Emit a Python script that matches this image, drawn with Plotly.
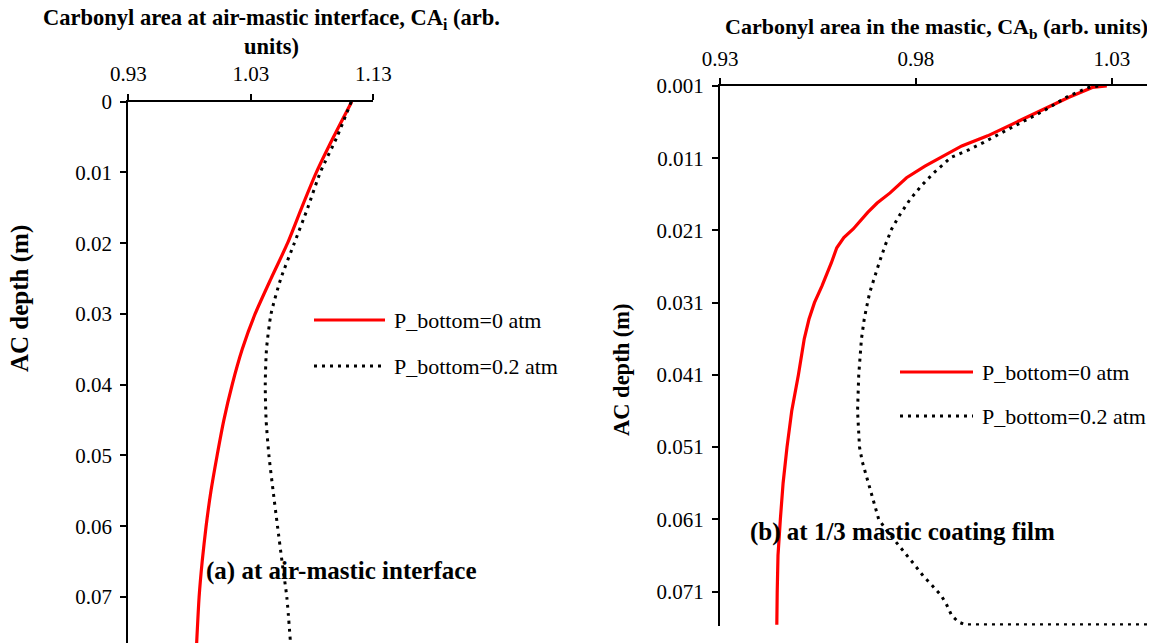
import plotly.graph_objects as go

W, H = 1155, 643
OFF = 8  # page body margin: the plot div starts 8px in from the window corner

# (a) at the air-mastic interface
depth_a = [0, 0.005, 0.01, 0.015, 0.02, 0.025, 0.03, 0.035, 0.04, 0.045,
           0.05, 0.055, 0.06, 0.065, 0.07, 0.0765]
ca_i_p0 = [1.1124, 1.0975, 1.0835, 1.0715, 1.0600, 1.0465, 1.0335, 1.0230,
           1.0148, 1.0080, 1.0025, 0.9975, 0.9935, 0.9903, 0.9878, 0.9858]
ca_i_p02 = [1.1120, 1.1003, 1.0867, 1.0765, 1.0655, 1.0545, 1.0465, 1.0428,
            1.0418, 1.0425, 1.0448, 1.0482, 1.0518, 1.0555, 1.0594, 1.0624]

# (b) at 1/3 of the mastic coating film
depth_b_p0 = [0.001, 0.0012, 0.0026, 0.0052, 0.0079, 0.0093, 0.0107, 0.0121,
              0.0137, 0.0158, 0.0172, 0.0185, 0.0208, 0.0220, 0.0234, 0.0255,
              0.0287, 0.0310, 0.0333, 0.036, 0.041, 0.046, 0.051, 0.056,
              0.061, 0.066, 0.071, 0.0756]
ca_b_p0 = [1.0287, 1.0250, 1.0189, 1.0086, 0.9983, 0.9917, 0.9870, 0.9823,
           0.9776, 0.9734, 0.9701, 0.9677, 0.9640, 0.9616, 0.9598, 0.9584,
           0.9560, 0.9541, 0.9527, 0.9515, 0.9500, 0.9483, 0.9471, 0.9461,
           0.9454, 0.9448, 0.9446, 0.9445]
depth_b_p02 = [0.001, 0.0012, 0.0024, 0.0045, 0.0061, 0.0075, 0.0088, 0.0098,
               0.0109, 0.0130, 0.0148, 0.0167, 0.0190, 0.0208, 0.0230, 0.0255,
               0.0278, 0.0296, 0.0319, 0.0333, 0.036, 0.041, 0.046, 0.051,
               0.053, 0.056, 0.059, 0.061, 0.0628, 0.0640, 0.0656, 0.0672,
               0.0688, 0.0702, 0.0716, 0.0729, 0.0743, 0.0752, 0.0756, 0.0756]
ca_b_p02 = [1.0265, 1.0241, 1.0189, 1.0124, 1.0067, 1.0020, 0.9973, 0.9936,
            0.9889, 0.9846, 0.9814, 0.9785, 0.9757, 0.9738, 0.9722, 0.9706,
            0.9692, 0.9682, 0.9673, 0.9668, 0.9661, 0.9654, 0.9651, 0.9656,
            0.9663, 0.9679, 0.9696, 0.9705, 0.9729, 0.9748, 0.9771, 0.9795,
            0.9818, 0.9842, 0.9865, 0.9879, 0.9891, 0.9908, 0.9926, 1.0600]

xticks_a = [0.93, 1.03, 1.13]
yticks_a = [0, 0.01, 0.02, 0.03, 0.04, 0.05, 0.06, 0.07]
xticks_b = [0.93, 0.98, 1.03]
yticks_b = [0.001, 0.011, 0.021, 0.031, 0.041, 0.051, 0.061, 0.071]

series_names = ["P_bottom=0 atm", "P_bottom=0.2 atm"]

SERIF = "Liberation Serif"
RED = dict(color="#ff0000", width=3.2)
DOT = dict(color="black", width=3, dash="3px,5px")


def px(x):
    return (x - OFF) / (W - OFF)


def py(y):
    return 1 - (y - OFF) / (H - OFF)


fig = go.Figure()
fig.add_trace(go.Scatter(x=ca_i_p0, y=depth_a, mode="lines",
                         line=dict(shape="spline", smoothing=0.6, **RED),
                         xaxis="x", yaxis="y", name=series_names[0]))
fig.add_trace(go.Scatter(x=ca_i_p02, y=depth_a, mode="lines",
                         line=dict(shape="spline", smoothing=0.6, **DOT),
                         xaxis="x", yaxis="y", name=series_names[1]))
fig.add_trace(go.Scatter(x=ca_b_p0, y=depth_b_p0, mode="lines", line=RED,
                         xaxis="x2", yaxis="y2", name=series_names[0]))
fig.add_trace(go.Scatter(x=ca_b_p02, y=depth_b_p02, mode="lines", line=DOT,
                         xaxis="x2", yaxis="y2", name=series_names[1]))

tickfont = dict(family=SERIF, size=21, color="black")
common = dict(showline=True, linecolor="black", linewidth=2, ticks="outside",
              ticklen=6, tickwidth=2, tickcolor="black", showgrid=False,
              zeroline=False, tickfont=tickfont, automargin=False,
              ticklabelstandoff=4)
inner = dict(showline=False, ticks="inside", ticklen=6, tickwidth=2,
             tickcolor="black", showgrid=False, zeroline=False,
             showticklabels=False, automargin=False)

dom_ax = [px(128.3), px(373.3)]
dom_ay = [0, py(101.7)]
dom_bx = [px(720), 1]
dom_by = [py(625.5), py(86)]
rng_ax = [0.93, 1.13]
rng_ay = [0.0765, 0]
rng_bx = [0.93, 1.041]
rng_by = [0.0757, 0.001]

fig.update_layout(
    width=W - OFF, height=H - OFF, margin=dict(l=0, r=0, t=0, b=0),
    paper_bgcolor="white", plot_bgcolor="white", showlegend=False,
    xaxis=dict(domain=dom_ax, range=rng_ax, side="top", anchor="y",
               tickvals=xticks_a, **common),
    yaxis=dict(domain=dom_ay, range=rng_ay, anchor="x",
               tickvals=yticks_a, **common),
    xaxis2=dict(domain=dom_bx, range=rng_bx, side="top", anchor="y2",
                tickvals=xticks_b, tickformat=".2f", **common),
    yaxis2=dict(domain=dom_by, range=rng_by, anchor="x2",
                tickvals=yticks_b, tickformat=".3f", **common),
    # overlay axes give the crossing tick marks
    xaxis3=dict(overlaying="x", range=rng_ax, side="top", anchor="y3",
                tickvals=xticks_a, **inner),
    yaxis3=dict(overlaying="y", range=rng_ay, anchor="x3",
                tickvals=yticks_a, **inner),
    xaxis4=dict(overlaying="x2", range=rng_bx, side="top", anchor="y4",
                tickvals=xticks_b, **inner),
    yaxis4=dict(overlaying="y2", range=rng_by, anchor="x4",
                tickvals=yticks_b, **inner),
)


def font(size):
    return dict(family=SERIF, size=size, color="black")


notes = [
    dict(text="<b>Carbonyl area at air-mastic interface, CA<sub>i</sub> (arb.<br>units)</b>",
         x=px(271), y=py(32), font=font(22.5)),
    dict(text="<b>Carbonyl area in the mastic, CA<sub>b</sub> (arb. units)</b>",
         x=px(936), y=py(28), font=font(22)),
    dict(text="<b>AC depth (m)</b>", x=px(20), y=py(299), font=font(25), textangle=-90),
    dict(text="<b>AC depth (m)</b>", x=px(621), y=py(370), font=font(22.5), textangle=-90),
    dict(text="<b>(a) at air-mastic interface</b>", x=px(341), y=py(571), font=font(25)),
    dict(text="<b>(b) at 1/3 mastic coating film</b>", x=px(902), y=py(532), font=font(25)),
]
for n in notes:
    fig.add_annotation(xref="paper", yref="paper", showarrow=False,
                       xanchor="center", yanchor="middle", **n)

# legends drawn by hand so the sample lines match the original length
legends = [(314, 385, 320, 366), (900, 973, 372, 416)]
for x0, x1, y0, y1 in legends:
    for yy, ln, name in [(y0, RED, series_names[0]), (y1, DOT, series_names[1])]:
        fig.add_shape(type="line", xref="paper", yref="paper",
                      x0=px(x0), x1=px(x1), y0=py(yy), y1=py(yy), line=ln)
        fig.add_annotation(xref="paper", yref="paper", showarrow=False,
                           x=px(x1 + 7), y=py(yy), xanchor="left",
                           yanchor="middle", text=name, font=font(22))

fig.write_html("out.html")
